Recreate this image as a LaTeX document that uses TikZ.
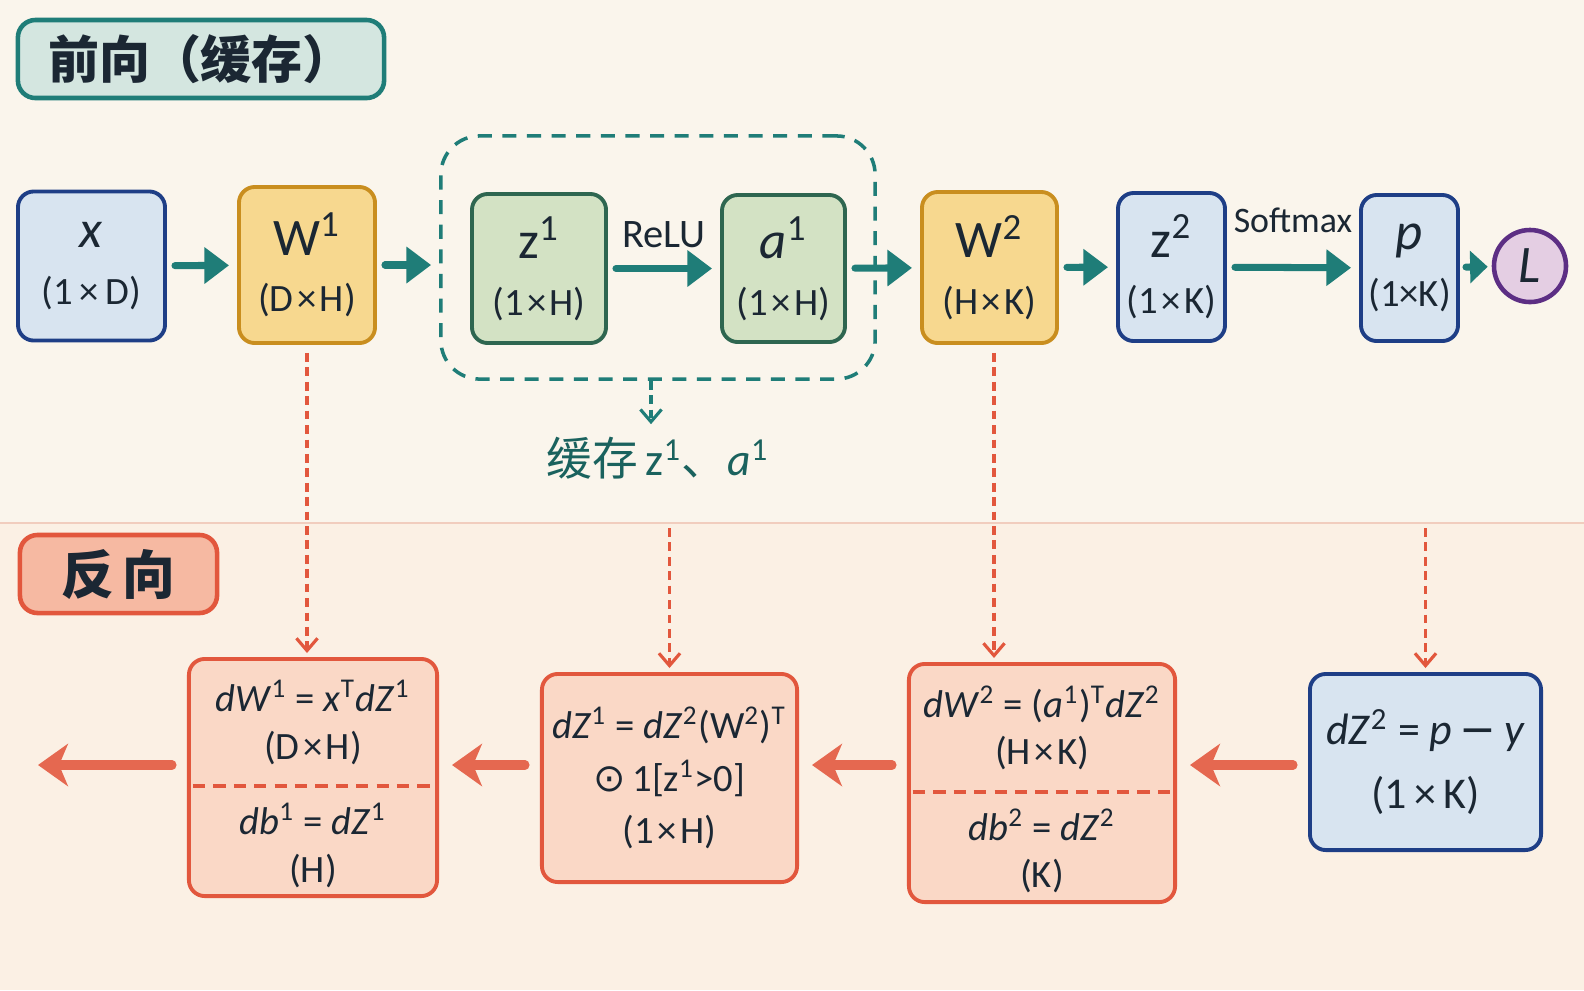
\documentclass[tikz,border=0pt]{standalone}
\usepackage{fontspec}
\setmainfont{Carlito}
\newfontfamily\cjk{Noto Sans CJK SC}
\newfontfamily\sym{DejaVu Sans}
\usetikzlibrary{arrows.meta, positioning}

\definecolor{bgtop}{HTML}{FAF5EC}
\definecolor{bgbot}{HTML}{FBF0E4}
\definecolor{ink}{HTML}{1B2733}
\definecolor{tealline}{HTML}{1F7D78}
\definecolor{tealfill}{HTML}{D4E6E0}
\definecolor{tealtext}{HTML}{1A625E}
\definecolor{blueline}{HTML}{1E3E86}
\definecolor{bluefill}{HTML}{D8E4F0}
\definecolor{goldline}{HTML}{C98E1F}
\definecolor{goldfill}{HTML}{F7D88F}
\definecolor{greenline}{HTML}{2E6650}
\definecolor{greenfill}{HTML}{D3E2C4}
\definecolor{purpline}{HTML}{5C2E84}
\definecolor{purpfill}{HTML}{E4CEE3}
\definecolor{redline}{HTML}{E2573D}
\definecolor{redfill}{HTML}{FAD8C6}
\definecolor{redtitle}{HTML}{F6B9A2}
\definecolor{sepline}{HTML}{F1CDBE}

\newcommand\mainlbl[1]{{\fontsize{15}{16}\selectfont #1}}
\newcommand\vi[1]{\textit{#1}}
\newcommand\sps[1]{\textsuperscript{#1}}
\newcommand\tms{\kern0.09em×\kern0.09em}

\begin{document}
\begin{tikzpicture}[
        x=0.01cm, y=-0.01cm,
        box/.style={rectangle, rounded corners=4.5pt, line width=1.1pt, align=center, inner sep=0pt, text=ink, font=\fontsize{11}{16}\selectfont},
        inbox/.style={box, draw=blueline, fill=bluefill},
        wbox/.style={box, draw=goldline, fill=goldfill},
        hbox/.style={box, draw=greenline, fill=greenfill},
        gradbox/.style={box, draw=redline, fill=redfill, font=\fontsize{11}{13.5}\selectfont},
        grpbox/.style={rectangle, rounded corners=11pt, draw=tealline, line width=1pt, dash pattern=on 4pt off 3pt},
        lossnode/.style={circle, draw=purpline, fill=purpfill, line width=1.3pt, inner sep=0pt, text=ink, font=\fontsize{15}{16}\selectfont},
        titlebox/.style={rectangle, rounded corners=5pt, line width=1.3pt, inner sep=0pt, text=ink, font=\cjk\bfseries},
        fwd/.style={-{Triangle[length=7pt, width=10pt]}, line width=2pt, draw=tealline, line cap=round, shorten <=0.08cm, shorten >=0.08cm},
        bwd/.style={-{Stealth[length=8.5pt, width=12pt, inset=2.5pt]}, line width=2.6pt, draw=redline!90, line cap=round, shorten <=0.15cm, shorten >=0.13cm},
        gdash/.style={-{Straight Barb[length=3.5pt, width=6pt]}, line width=0.9pt, draw=redline, dash pattern=on 2.5pt off 1.6pt, shorten <=0.08cm, shorten >=0.04cm},
        cdash/.style={-{Straight Barb[length=3.5pt, width=6pt]}, line width=0.9pt, draw=tealline, dash pattern=on 2.5pt off 1.6pt},
        sepdash/.style={draw=redline, line width=1pt, dash pattern=on 3.5pt off 2.3pt},
        edgelbl/.style={text=ink, inner sep=0pt}
    ]
        % background
        \useasboundingbox (0,0) rectangle (1584,990);
        \fill[bgtop] (0,0) rectangle (1584,523);
        \fill[bgbot] (0,523) rectangle (1584,990);
        \draw[sepline, line width=0.8pt] (0,523) -- (1584,523);

        % titles
        \node[titlebox, draw=tealline, fill=tealfill, minimum width=3.66cm, minimum height=0.78cm, font=\cjk\bfseries\fontsize{14.5}{16}\selectfont] (fwdtitle) at (201,59) {前向（缓存）};
        \node[titlebox, draw=redline, fill=redtitle, minimum width=1.97cm, minimum height=0.78cm, font=\cjk\bfseries\fontsize{15}{16}\selectfont] (bwdtitle) at (118.5,574) {反\,向};

        % forward pass
        \node[inbox, minimum width=1.47cm, minimum height=1.49cm] (x) at (91.5,266) {\mainlbl{\vi{x}}\\(1\,×\,D)};
        \node[wbox, minimum width=1.36cm, minimum height=1.56cm] (w1) at (307,265) {\mainlbl{W\sps{1}}\\(D\tms H)};
        \node[grpbox, minimum width=4.34cm, minimum height=2.43cm] (cache) at (658,257.5) {};
        \node[hbox, minimum width=1.34cm, minimum height=1.49cm] (z1) at (539,268.5) {\mainlbl{z\sps{1}}\\(1\tms H)};
        \node[hbox, minimum width=1.23cm, minimum height=1.47cm] (a1) at (783.5,268.5) {\mainlbl{\vi{a}\sps{1}}\\(1\tms H)};
        \node[wbox, minimum width=1.35cm, minimum height=1.51cm] (w2) at (989.5,267.5) {\mainlbl{W\sps{2}}\\(H\tms K)};
        \node[inbox, minimum width=1.07cm, minimum height=1.48cm] (z2) at (1171.5,267) {\mainlbl{z\sps{2}}\\(1\tms K)};
        \node[inbox, minimum width=0.97cm, minimum height=1.46cm] (p) at (1409.5,268) {\mainlbl{\vi{p}}\\(1×K)};
        \node[lossnode, minimum size=0.72cm] (loss) at (1530,266) {\vi{L}};

        \draw[fwd] (x) -- (w1);
        \draw[fwd] (w1.east) -- (w1.east -| cache.west);
        \draw[fwd] (z1) -- node[edgelbl, above=5pt, font=\fontsize{11.5}{12}\selectfont] (relu) {ReLU} (a1);
        \draw[fwd] (a1) -- (w2);
        \draw[fwd] (w2) -- (z2);
        \draw[fwd] (z2) -- node[edgelbl, above=9pt, font=\fontsize{10.2}{12}\selectfont] (smax) {Softmax} (p);
        \draw[fwd, -{Triangle[length=5pt, width=9pt]}, shorten <=0.06cm, shorten >=0.04cm] (p) -- (loss);

        % cached values
        \node[text=tealtext, inner sep=0pt, font=\fontsize{13}{14}\selectfont] (note) at (658,458) {{\cjk 缓存}\,z\sps{1}{\cjk 、}\vi{a}\sps{1}};
        \draw[cdash] ([xshift=-0.07cm]cache.south) -- ([xshift=-0.07cm, yshift=0.12cm]note.north);

        % backward pass
        \node[gradbox, minimum width=2.48cm, minimum height=2.37cm] (gw1) at (313,777.5)
            {\rule{0pt}{12.5pt}\vi{dW}\sps{1} = \vi{x}\sps{T}\vi{dZ}\sps{1}\\(D\tms H)\\[8pt]\vi{db}\sps{1} = \vi{dZ}\sps{1}\\(H)};
        \node[gradbox, minimum width=2.55cm, minimum height=2.08cm, font=\fontsize{11}{15}\selectfont] (gz1) at (669.5,778)
            {\vi{dZ}\sps{1} = \vi{dZ}\sps{2}(W\sps{2})\sps{T}\\{\sym ⊙}\,1[z\sps{1}>0]\\(1\tms H)};
        \node[gradbox, minimum width=2.66cm, minimum height=2.38cm] (gw2) at (1042,783)
            {\rule{0pt}{12.5pt}\vi{dW}\sps{2} = (\vi{a}\sps{1})\sps{T}\vi{dZ}\sps{2}\\(H\tms K)\\[8pt]\vi{db}\sps{2} = \vi{dZ}\sps{2}\\(K)};
        \node[inbox, minimum width=2.31cm, minimum height=1.76cm, font=\fontsize{12.5}{18}\selectfont] (gz2) at (1425.5,762)
            {\vi{dZ}\sps{2} = \vi{p}\,{\sym −}\,\vi{y}\\(1\,×\,K)};

        \draw[sepdash] ([xshift=0.06cm]gw1.west |- 0,786) -- ([xshift=-0.06cm]gw1.east |- 0,786);
        \draw[sepdash] ([xshift=0.06cm]gw2.west |- 0,792) -- ([xshift=-0.06cm]gw2.east |- 0,792);

        \coordinate (brow) at (0,765);
        \coordinate (bout) at (38,765);
        \draw[bwd] (gz2.west |- brow) -- (gw2.east |- brow);
        \draw[bwd] (gw2.west |- brow) -- (gz1.east |- brow);
        \draw[bwd] (gz1.west |- brow) -- (gw1.east |- brow);
        \draw[bwd, shorten >=0pt] (gw1.west |- brow) -- (bout);

        % links from forward to backward
        \coordinate (sep) at (0,528);
        \draw[gdash] (w1.south) -- (w1.south |- gw1.north);
        \draw[gdash, shorten <=0pt] (gz1.north |- sep) -- (gz1.north);
        \draw[gdash] ([xshift=0.045cm]w2.south) -- ([xshift=0.045cm]w2.south |- gw2.north);
        \draw[gdash, shorten <=0pt] (gz2.north |- sep) -- (gz2.north);
    \end{tikzpicture}
\end{document}
